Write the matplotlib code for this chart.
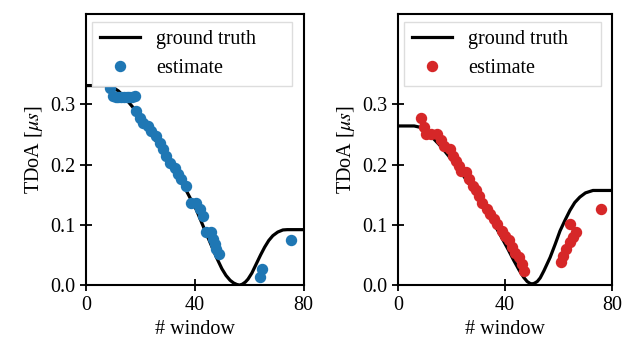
import numpy as np
import matplotlib
matplotlib.use('Agg')
import matplotlib.pyplot as plt

plt.rcParams['font.family'] = ['Liberation Serif', 'DejaVu Serif']
plt.rcParams['mathtext.fontset'] = 'stix'
plt.rcParams['font.size'] = 14.5

# left panel
gt_x1 = [0, 8, 10, 12, 14, 16, 19, 22, 25, 28, 31, 34, 37, 40.6, 44.3, 48, 50, 51.5, 53, 54.3,
         55.5, 56.5, 57.5, 58.6, 59.6, 61, 62.6, 64.2, 65.7, 67.2, 68.7, 70.5, 72.4, 74, 80]
gt_y1 = [0.331, 0.331, 0.328, 0.322, 0.313, 0.302, 0.286, 0.266, 0.245, 0.222, 0.2, 0.178, 0.156,
         0.125, 0.085, 0.046, 0.027, 0.016, 0.008, 0.0035, 0.001, 0.0, 0.0015, 0.005, 0.01, 0.02,
         0.035, 0.05, 0.063, 0.074, 0.082, 0.088, 0.0915, 0.092, 0.092]
est_x1 = [8.8, 10, 11, 12, 13, 14, 15, 16, 17, 18, 18.6, 19.8, 21, 22.9, 24.1, 25.9, 27.2, 28.4, 29.6,
          30.8, 32.7, 33.9, 35.1, 36.9, 38.8, 40.6, 41.8, 43.0, 44.3, 46.1, 46.7, 47.3, 48.0, 48.9,
          63.9, 64.8, 75.5]
est_y1 = [0.327, 0.313, 0.312, 0.312, 0.312, 0.312, 0.312, 0.312, 0.312, 0.313, 0.288, 0.277, 0.269,
          0.264, 0.255, 0.247, 0.236, 0.225, 0.214, 0.203, 0.195, 0.184, 0.176, 0.165, 0.137, 0.137,
          0.126, 0.115, 0.088, 0.088, 0.077, 0.069, 0.060, 0.052, 0.014, 0.026, 0.074]

# right panel
gt_x2 = [0, 6, 8, 10, 13, 16, 20, 24, 28, 32, 35, 38.3, 41, 43.2, 45.2, 46.9, 48.2, 49.2, 50,
         50.9, 52, 53.1, 54.5, 56.8, 58.7, 60.5, 62.4, 64.2, 66, 67.9, 70, 72.8, 80]
gt_y2 = [0.264, 0.264, 0.262, 0.256, 0.244, 0.23, 0.208, 0.184, 0.158, 0.13, 0.108, 0.082, 0.06,
         0.041, 0.025, 0.013, 0.006, 0.003, 0.002, 0.003, 0.006, 0.012, 0.024, 0.046, 0.068, 0.09,
         0.108, 0.124, 0.137, 0.146, 0.153, 0.157, 0.157]
est_x2 = [8.6, 9.8, 10.5, 12.3, 14.5, 16, 17.3, 19.5, 20.4, 21.6, 22.8, 23.5, 25.3, 26.5, 27.8, 29, 30.2,
          31.5, 33.3, 34.5, 35.8, 37, 38.9, 40.1, 41.3, 42.6, 43.8, 45.0, 46.3, 46.9,
          61.0, 61.6, 62.8, 64.1, 65.3, 66.6, 64.1, 75.9]
est_y2 = [0.277, 0.263, 0.251, 0.251, 0.251, 0.241, 0.230, 0.226, 0.215, 0.206, 0.198, 0.190, 0.187,
          0.176, 0.165, 0.157, 0.148, 0.137, 0.126, 0.118, 0.110, 0.101, 0.090, 0.082, 0.074, 0.063,
          0.054, 0.046, 0.035, 0.024, 0.038, 0.049, 0.060, 0.071, 0.079, 0.088, 0.101, 0.126]

fig = plt.figure(figsize=(6.26, 3.46), dpi=100)
ax1 = fig.add_axes([0.137, 0.176, 0.348, 0.784])
ax2 = fig.add_axes([0.636, 0.176, 0.342, 0.784])

panels = [(ax1, gt_x1, gt_y1, est_x1, est_y1, '#1f77b4'),
          (ax2, gt_x2, gt_y2, est_x2, est_y2, '#d62728')]

for ax, gx, gy, ex, ey, c in panels:
    ax.plot(gx, gy, color='black', lw=2.3, label='ground truth', zorder=2,
            solid_joinstyle='round')
    ax.plot(ex, ey, 'o', color=c, ms=7.2, lw=0, label='estimate', zorder=3)
    ax.set_xlim(0, 80)
    ax.set_ylim(0, 0.45)
    ax.set_xticks([0, 40, 80])
    ax.set_yticks([0.0, 0.1, 0.2, 0.3])
    ax.set_xlabel('# window')
    ax.set_ylabel(r'TDoA [$\mu s$]')
    ax.tick_params(direction='inout', length=8, width=1.3)
    for s in ax.spines.values():
        s.set_linewidth(1.5)
    ax.legend(loc='upper left', mode='expand', bbox_to_anchor=(0.027, 0.5, 0.922, 0.47),
              borderaxespad=0.0, fancybox=False, framealpha=1, edgecolor='#dddddd',
              handlelength=2.0)

fig.savefig('out.png', dpi=100)
